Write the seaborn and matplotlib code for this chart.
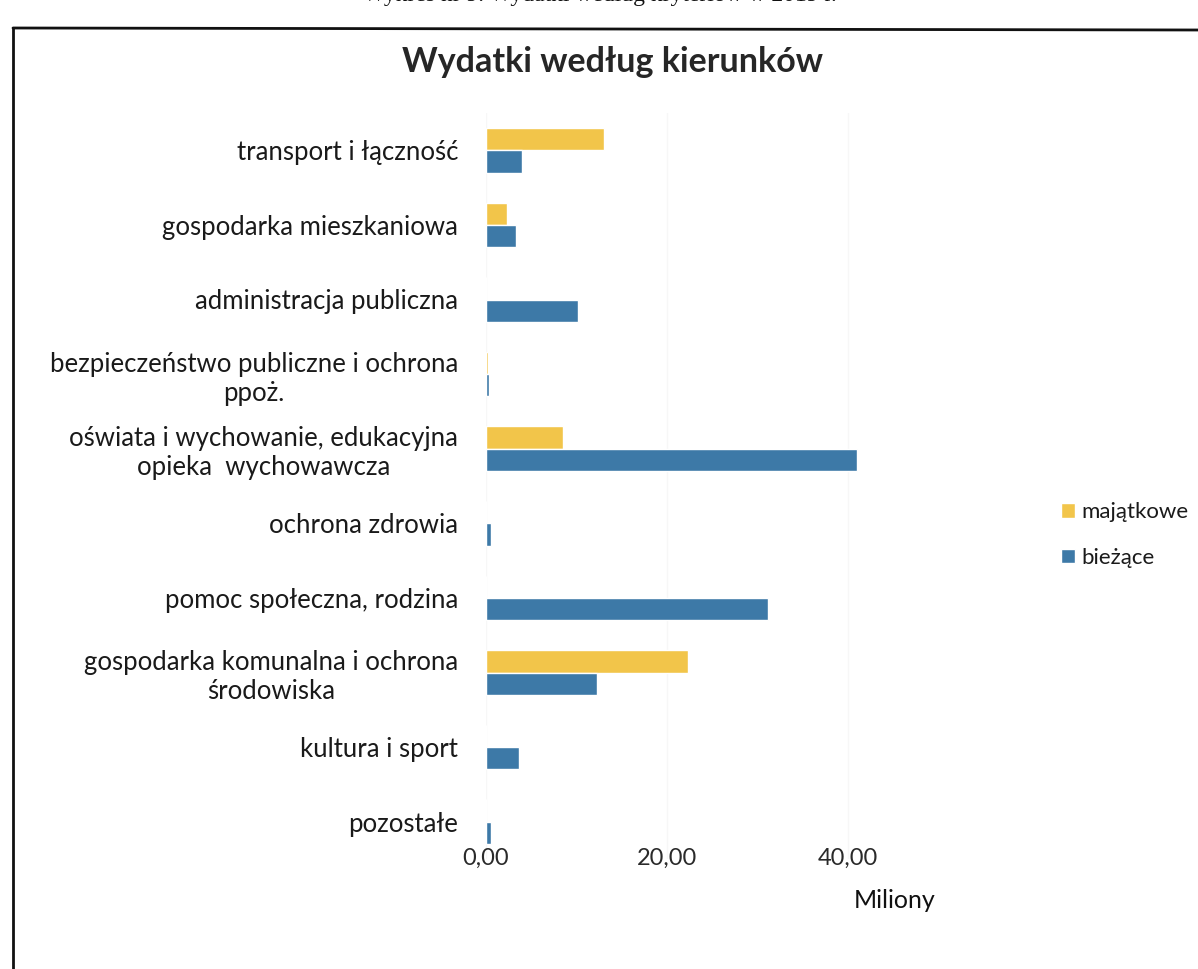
import matplotlib
matplotlib.use("Agg")
import matplotlib.pyplot as plt
import seaborn as sns
import pandas as pd
from matplotlib.lines import Line2D

categories = [
    "transport i łączność",
    "gospodarka mieszkaniowa",
    "administracja publiczna",
    "bezpieczeństwo publiczne i ochrona\nppoż.",
    "oświata i wychowanie, edukacyjna\nopieka  wychowawcza",
    "ochrona zdrowia",
    "pomoc społeczna, rodzina",
    "gospodarka komunalna i ochrona\nśrodowiska",
    "kultura i sport",
    "pozostałe",
]
majatkowe = [13.0, 2.3, 0.0, 0.25, 8.5, 0.0, 0.0, 22.4, 0.0, 0.0]
biezace = [4.0, 3.3, 10.2, 0.3, 41.0, 0.5, 31.2, 12.3, 3.7, 0.5]
series = ["majątkowe", "bieżące"]
xticks = [0, 20, 40]
xtick_labels = ["0,00", "20,00", "40,00"]

df = pd.DataFrame({
    "kategoria": categories * 2,
    "wartosc": majatkowe + biezace,
    "typ": [series[0]] * len(categories) + [series[1]] * len(categories),
})

sns.set_theme(style="white")
plt.rcParams["font.family"] = ["Lato", "DejaVu Sans"]

W, H = 1198, 969
fig = plt.figure(figsize=(W / 100, H / 100), dpi=100)
left, right = 486, 938
top, bottom = 113, 859
ax = fig.add_axes([left / W, 1 - bottom / H, (right - left) / W, (bottom - top) / H])

palette = {"majątkowe": "#f2c54a", "bieżące": "#3d79a7"}
sns.barplot(data=df, y="kategoria", x="wartosc", hue="typ", hue_order=series,
            order=categories, palette=palette, orient="h", width=0.6,
            ax=ax, saturation=1, legend=True)

ax.set_xlim(0, 50)
ax.set_xticks(xticks)
ax.set_xticklabels(xtick_labels, fontsize=17, color="#2a2a2a")
ax.grid(axis="x", color="#f7f7f7", linewidth=1)
ax.set_axisbelow(True)
for s in ax.spines.values():
    s.set_visible(False)
ax.tick_params(axis="y", length=0, pad=20, labelsize=18.5, labelcolor="#1a1a1a")
ax.tick_params(axis="x", length=0, pad=-8)
for t in ax.get_yticklabels():
    t.set_multialignment("center")
ax.set_ylabel("")
ax.set_xlabel("")

leg = ax.legend(loc="center left", bbox_to_anchor=(1052 / W, 1 - 535 / H),
                bbox_transform=fig.transFigure, frameon=False, fontsize=16,
                handlelength=0.65, handleheight=0.65, handletextpad=0.25,
                labelspacing=1.15, borderaxespad=0)
for t in leg.get_texts():
    t.set_color("#1a1a1a")

fig.text(613 / W, 1 - 62 / H, "Wydatki według kierunków", ha="center", va="center",
         fontsize=24.5, fontweight="bold", color="#262626")
fig.text(895 / W, 1 - 901 / H, "Miliony", ha="center", va="center", fontsize=18,
         color="#111111")
fig.text(600 / W, 1 + 4 / H, "Wykres nr 9. Wydatki według kryteriów w 2019 r.",
         ha="center", va="center", fontsize=17, family="Liberation Serif",
         color="#111111")

fig.add_artist(Line2D([13 / W, 1], [1 - 28 / H, 1 - 30 / H], transform=fig.transFigure,
                      color="#111111", linewidth=2))
fig.add_artist(Line2D([13 / W, 13 / W], [1 - 28 / H, 0], transform=fig.transFigure,
                      color="#111111", linewidth=2))

fig.savefig("out.png", dpi=100)
